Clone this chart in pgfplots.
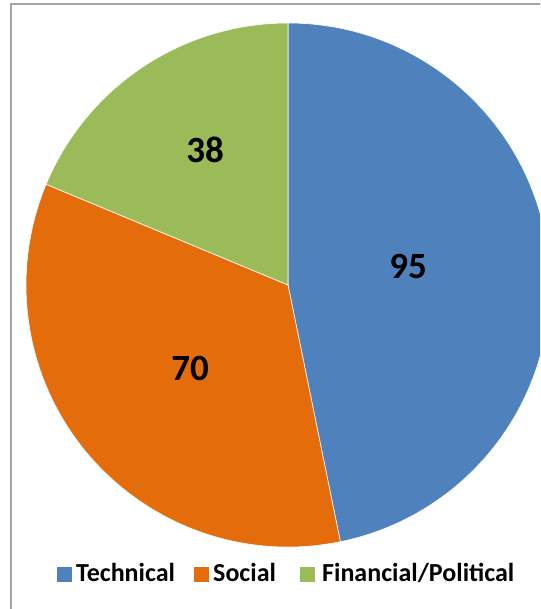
\documentclass[border=0pt]{standalone}
\usepackage{pgfplots}
\pgfplotsset{compat=1.18}
\usepackage{pgfplotstable}
\usepackage{fontspec}
\setmainfont{Carlito}
\definecolor{cTech}{HTML}{4F81BD}
\definecolor{cSoc}{HTML}{E46C0A}
\definecolor{cFin}{HTML}{9BBB59}
\definecolor{cFrame}{HTML}{A6A6A6}
\pgfplotstableread{
label value
Technical 95
Social 70
Financial/Political 38
}\piedata
\begin{document}
\begin{tikzpicture}
\pgfplotstablegetelem{0}{value}\of\piedata \let\va\pgfplotsretval
\pgfplotstablegetelem{1}{value}\of\piedata \let\vb\pgfplotsretval
\pgfplotstablegetelem{2}{value}\of\piedata \let\vc\pgfplotsretval
\pgfmathsetmacro\total{\va+\vb+\vc}
\pgfmathsetmacro\aA{90}
\pgfmathsetmacro\aB{\aA-360*(\va/\total)}
\pgfmathsetmacro\aC{\aB-360*(\vb/\total)}
\pgfmathsetmacro\aD{\aC-360*(\vc/\total)}
\def\R{262pt}
\fill[white] (0,0) rectangle (540pt,609pt);
\clip (0,0) rectangle (540pt,609pt);
\useasboundingbox (0,0) rectangle (540pt,609pt);
\begin{axis}[x=1pt,y=1pt,xmin=0,xmax=540,ymin=0,ymax=609,hide axis,
  at={(0,0)},anchor=south west,clip=false]
\draw[cFrame,line width=1.3pt] (axis cs:11,-20) -- (axis cs:11,605) -- (axis cs:600,605);
\fill[cTech,draw=white,line width=0.6pt] (axis cs:288,324) -- ++(\aA:\R) arc[start angle=\aA,end angle=\aB,radius=\R] -- cycle;
\fill[cSoc,draw=white,line width=0.6pt] (axis cs:288,324) -- ++(\aB:\R) arc[start angle=\aB,end angle=\aC,radius=\R] -- cycle;
\fill[cFin,draw=white,line width=0.6pt] (axis cs:288,324) -- ++(\aC:\R) arc[start angle=\aC,end angle=\aD,radius=\R] -- cycle;
\node[font=\bfseries\fontsize{37}{42}\selectfont,inner sep=0pt] at (axis cs:408,342.5) {\va};
\node[font=\bfseries\fontsize{37}{42}\selectfont,inner sep=0pt] at (axis cs:190,240.5) {\vb};
\node[font=\bfseries\fontsize{37}{42}\selectfont,inner sep=0pt] at (axis cs:205,459) {\vc};
% legend
\fill[cTech] (axis cs:57,27) rectangle (axis cs:72,42);
\fill[cSoc] (axis cs:194,27) rectangle (axis cs:209,42);
\fill[cFin] (axis cs:300,27) rectangle (axis cs:315,42);
\node[font=\bfseries\fontsize{26}{30}\selectfont,inner sep=0pt,anchor=base west] at (axis cs:76,27) {Technical};
\node[font=\bfseries\fontsize{26}{30}\selectfont,inner sep=0pt,anchor=base west] at (axis cs:213,27) {Social};
\node[font=\bfseries\fontsize{26}{30}\selectfont,inner sep=0pt,anchor=base west] at (axis cs:322,27) {Financial/Political};
\end{axis}
\end{tikzpicture}
\end{document}
